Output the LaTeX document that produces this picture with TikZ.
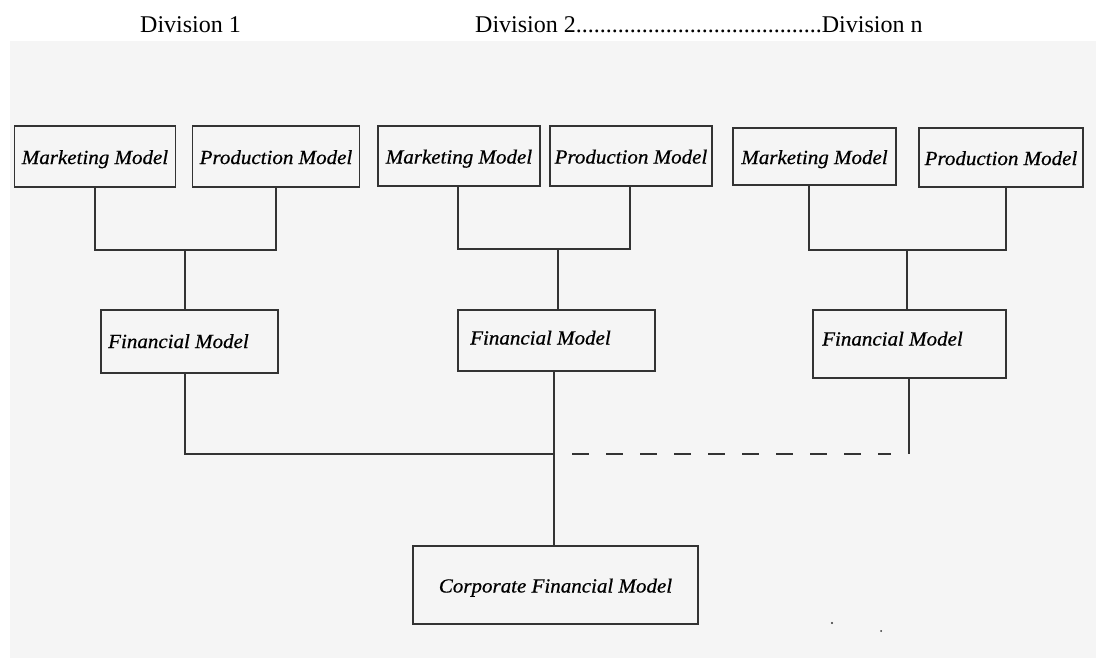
\documentclass[tikz,border=0pt]{standalone}
\usepackage{fontspec}
\setmainfont{Liberation Serif}
\newfontfamily\divfont{Liberation Serif}
\newfontfamily\boxfont[FakeStretch=1.05,FakeBold=0.6]{Liberation Serif}
\definecolor{bggray}{HTML}{F5F5F5}
\definecolor{ink}{HTML}{333333}
\begin{document}
\begin{tikzpicture}[x=1pt,y=-1pt,
  box/.style={draw=ink, line width=1.9pt, inner sep=0pt, rectangle},
  lbl/.style={inner sep=0pt, font=\boxfont\itshape\fontsize{20}{24}\selectfont, text=black, text height=17pt, text depth=2pt},
  divlbl/.style={inner sep=0pt, font=\divfont\fontsize{24}{28}\selectfont, anchor=base west},
  wire/.style={draw=ink, line width=1.9pt},
  dashwire/.style={draw=ink, line width=1.9pt, dash pattern=on 17pt off 17pt}]
\useasboundingbox (0,0) rectangle (1096,659);
\fill[white] (0,0) rectangle (1096,659);
\fill[bggray] (10,41) rectangle (1096,658);

% division labels
\node[divlbl] (d1) at (140,32) {Division 1};
\node[divlbl] (d2) at (475,32) {Division 2.........................................Division n};

% row 1
\node[box, lbl, minimum width=161, minimum height=61] (m1) at (95,156.5) {Marketing Model};
\node[box, lbl, minimum width=167, minimum height=61] (p1) at (276,156.5) {Production Model};
\node[box, lbl, minimum width=162, minimum height=60] (m2) at (459,156) {Marketing Model};
\node[box, lbl, minimum width=162, minimum height=60] (p2) at (631,156) {Production Model};
\node[box, lbl, minimum width=163, minimum height=57] (m3) at (814.5,156.5) {Marketing Model};
\node[box, lbl, minimum width=164, minimum height=59] (p3) at (1001,157.5) {Production Model};

% financial models
\node[box, minimum width=177, minimum height=63] (f1) at (189.5,341.5) {};
\node[lbl, anchor=west] (f1t) at (108,340.5) {Financial Model};
\node[box, minimum width=197, minimum height=61] (f2) at (556.5,340.5) {};
\node[lbl, anchor=west] (f2t) at (470,337) {Financial Model};
\node[box, minimum width=193, minimum height=68] (f3) at (909.5,344) {};
\node[lbl, anchor=west] (f3t) at (822,338) {Financial Model};

% corporate
\node[box, lbl, minimum width=285, minimum height=78] (corp) at (555.5,585) {Corporate Financial Model};

% junction coordinates
\coordinate (j1) at (185,250);
\coordinate (j2) at (558,249);
\coordinate (j3) at (907,250);
\coordinate (b1) at (185,454);
\coordinate (bus) at (554,454);
\coordinate (dstart) at (572,454);
\coordinate (b3) at (909,454);

% division 1 connectors
\draw[wire] (m1.south) |- (j1) -| (p1.south);
\draw[wire] (j1) -- (j1 |- f1.north);
% division 2 connectors
\draw[wire] ([xshift=-1pt]m2.south) |- (j2) -| ([xshift=-1pt]p2.south);
\draw[wire] (j2) -- (j2 |- f2.north);
% division n connectors
\draw[wire] ([xshift=-5.5pt]m3.south) |- (j3) -| ([xshift=5pt]p3.south);
\draw[wire] (j3) -- (j3 |- f3.north);

% to corporate
\draw[wire] (b1 |- f1.south) -- (b1) -- (bus);
\draw[wire] (bus |- f2.south) -- (bus |- corp.north);
\draw[dashwire] (dstart) -- ([xshift=-18pt]b3);
\draw[wire] (b3 |- f3.south) -- (b3);

% small specks
\fill[ink] (832,623) circle (1.2);
\fill[ink] (881,631) circle (1);
\end{tikzpicture}
\end{document}
